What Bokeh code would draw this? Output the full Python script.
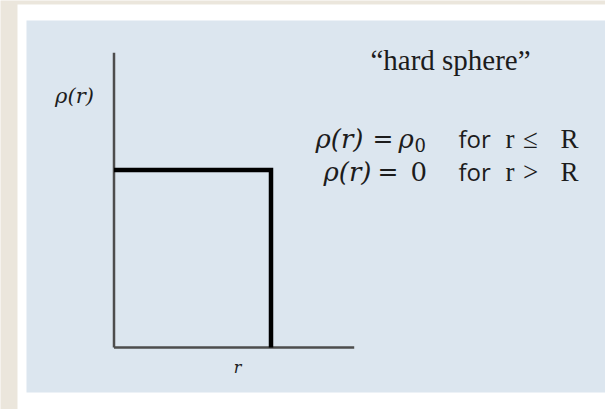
from bokeh.plotting import figure
from bokeh.models import Range1d, BoxAnnotation, Label
from bokeh.embed import file_html
from bokeh.resources import INLINE

# Hard-sphere density profile: rho(r) = rho0 for r <= R, 0 beyond
R = 1.0
rho0 = 1.0
r_max = 1.53          # extent of the r axis
rho_max = 1.66        # extent of the rho axis
step_r = [0.0, R, R]
step_rho = [rho0, rho0, 0.0]

W, H = 605, 409
# pixel placement of the origin and scale of the drawing
X0, Y0 = 113.5, 347.0
SX, SY = 157.0, 177.5


def dx(px):
    return (px - X0) / SX


def dy(py):
    return (Y0 - py) / SY


p = figure(width=W, height=H, output_backend="svg", toolbar_location=None,
           x_range=Range1d(dx(0), dx(W)), y_range=Range1d(dy(H), dy(0)),
           min_border=0)
p.axis.visible = False
p.grid.visible = False
p.outline_line_color = None
p.background_fill_color = "#ebe6dc"
p.border_fill_color = "#ebe6dc"

# white card and pale blue panel
p.add_layout(BoxAnnotation(left=dx(17), right=dx(W + 5), top=dy(4), bottom=dy(H + 5),
                           fill_color="white", fill_alpha=1, line_color=None,
                           level="underlay"))
p.add_layout(BoxAnnotation(left=dx(26), right=dx(W + 5), top=dy(20), bottom=dy(392),
                           fill_color="#dce6ef", fill_alpha=1, line_color=None,
                           level="underlay"))

# axes
p.line([0, 0], [0, rho_max], line_color="#4d4d4d", line_width=2.5)
p.line([0, r_max], [0, 0], line_color="#4d4d4d", line_width=2.5)

# density profile
p.line(step_r, step_rho, line_color="black", line_width=4.5, line_join="miter")

serif = "Liberation Serif"
math = "DejaVu Serif"
ink = "#1c1c1c"


def lab(xp, yp, text, font, size, align="left", style="normal"):
    p.add_layout(Label(x=dx(xp), y=dy(yp), text=text, text_font=font,
                       text_font_style=style, text_font_size=size,
                       text_align=align, text_baseline="middle", text_color=ink))


lab(74, 95, "ρ(r)", math, "21px", "center", "italic")
lab(237, 367, "r", math, "16px", "center", "italic")
lab(450, 59, "\u201chard sphere\u201d", serif, "29px", "center")

# piecewise definition, two rows
rows = [("≤", 315, 372, 138), (">", 323, 377, 171)]
for i, (rel, x_lhs, x_eq, ypx) in enumerate(rows):
    lab(x_lhs, ypx, "ρ(r)", math, "26px", style="italic")
    lab(x_eq, ypx, "=", math, "25px")
    if i == 0:
        lab(398, ypx, "ρ", math, "26px", style="italic")
        lab(414, ypx + 6, "0", math, "18px")
    else:
        lab(410, ypx, "0", math, "26px")
    lab(458, ypx, "for", "Open Sans", "24px")
    lab(505, ypx, "r", serif, "27px")
    lab(530, ypx, rel, serif, "27px", "center")
    lab(578, ypx, "R", serif, "27px", "right")

open("out.html", "w").write(file_html(p, INLINE))
